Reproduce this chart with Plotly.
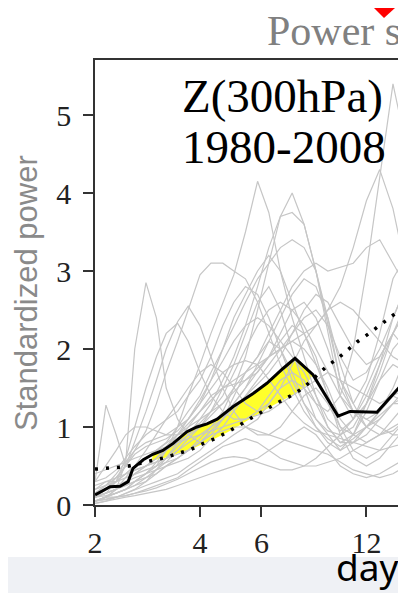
import numpy as np
import plotly.graph_objects as go

# ---------------- data ----------------
# common period grid (days) for the individual yearly spectra (grey lines)
grid_days = [2.0, 2.15, 2.3, 2.45, 2.6, 2.8, 3.0, 3.2, 3.45, 3.7, 4.0, 4.3, 4.65, 5.0,
             5.4, 5.85, 6.3, 6.8, 7.35, 7.95, 8.6, 9.3, 10.1, 11.0, 12.0, 13.1, 14.3, 15.6, 17.0]

years = list(range(1980, 2009))
year_power = [
    [0.05,0.10,0.20,0.55,2.00,2.85,2.40,1.50,1.10,0.90,0.80,0.90,1.10,1.40,1.70,1.90,2.10,2.00,1.70,1.30,1.00,0.80,0.70,0.90,1.30,1.60,1.80,1.70,1.60],
    [0.30,1.28,0.90,0.50,0.45,0.50,0.60,0.70,0.80,0.90,1.00,1.20,1.50,1.80,2.20,2.60,2.80,2.50,2.00,1.50,1.10,0.90,0.70,0.80,1.00,1.20,1.40,1.30,1.20],
    [0.10,0.15,0.20,0.25,0.30,0.40,0.50,0.70,1.00,1.40,1.80,2.20,2.60,2.95,3.50,4.15,3.75,3.00,2.40,1.90,1.40,1.00,0.80,0.90,1.20,1.60,2.00,2.20,2.10],
    [0.05,0.10,0.15,0.20,0.30,0.40,0.50,0.60,0.75,0.90,1.10,1.30,1.60,1.90,2.30,2.80,3.30,3.70,4.00,3.60,3.00,2.20,1.40,1.10,1.30,1.80,2.40,2.80,2.90],
    [0.15,0.25,0.35,0.50,0.70,0.95,1.30,1.70,2.10,2.50,2.95,3.10,3.10,3.00,2.90,2.60,2.20,1.80,1.50,1.20,1.00,0.85,0.75,0.85,1.00,1.15,1.30,1.30,1.20],
    [0.10,0.20,0.30,0.50,0.80,1.20,1.60,2.00,2.35,2.55,2.30,1.90,1.50,1.20,1.00,0.90,0.90,1.00,1.20,1.40,1.50,1.30,1.00,0.90,1.00,1.20,1.40,1.50,1.50],
    [0.10,0.15,0.30,0.60,1.00,1.50,1.90,2.20,2.33,2.10,1.70,1.40,1.20,1.10,1.10,1.20,1.40,1.60,1.70,1.60,1.30,1.00,0.80,0.80,0.90,1.10,1.30,1.40,1.40],
    [0.05,0.10,0.15,0.20,0.25,0.30,0.40,0.50,0.60,0.70,0.85,1.00,1.20,1.50,1.90,2.50,3.10,3.70,3.75,3.60,3.00,2.30,1.60,1.20,1.00,1.10,1.30,1.50,1.60],
    [0.10,0.15,0.20,0.30,0.40,0.50,0.55,0.60,0.70,0.80,0.90,1.00,1.10,1.30,1.50,1.70,1.90,2.00,2.10,2.20,2.30,2.50,2.80,3.30,3.90,4.30,3.80,3.00,2.50],
    [0.05,0.10,0.10,0.15,0.20,0.25,0.30,0.35,0.40,0.50,0.60,0.70,0.80,0.90,1.00,1.10,1.30,1.50,1.60,1.50,1.30,1.20,1.40,2.00,3.00,4.20,5.40,4.60,3.80],
    [0.20,0.25,0.30,0.40,0.50,0.60,0.70,0.80,0.90,1.00,1.10,1.20,1.30,1.50,1.70,1.90,2.20,2.50,2.80,3.00,3.10,3.00,3.05,3.10,3.30,3.40,3.10,2.80,2.60],
    [0.10,0.20,0.30,0.40,0.50,0.60,0.70,0.80,1.00,1.20,1.40,1.70,2.00,2.30,2.60,2.90,3.10,3.30,3.40,3.30,3.00,2.40,1.60,1.30,1.60,2.20,2.90,3.20,3.00],
    [0.02,0.05,0.08,0.10,0.12,0.15,0.18,0.20,0.25,0.30,0.35,0.40,0.45,0.50,0.55,0.60,0.70,0.80,0.90,1.00,0.90,0.70,0.50,0.40,0.35,0.40,0.50,0.60,0.70],
    [0.05,0.08,0.10,0.12,0.15,0.20,0.25,0.30,0.35,0.45,0.55,0.65,0.75,0.80,0.85,0.80,0.70,0.60,0.55,0.50,0.50,0.55,0.60,0.70,0.80,0.90,1.00,1.10,1.10],
    [0.10,0.15,0.20,0.30,0.40,0.50,0.60,0.75,0.90,1.05,1.20,1.35,1.50,1.60,1.70,1.80,1.90,2.00,2.10,2.00,1.80,1.50,1.10,0.90,0.80,0.90,1.10,1.30,1.40],
    [0.30,0.35,0.45,0.60,0.75,0.90,1.00,1.10,1.20,1.40,1.60,1.90,2.30,2.60,2.80,2.70,2.40,2.00,1.60,1.30,1.10,0.95,0.90,1.00,1.30,1.70,2.20,2.60,2.80],
    [0.15,0.25,0.40,0.55,0.70,0.80,0.85,0.90,1.00,1.10,1.30,1.60,2.00,2.40,2.70,3.00,3.20,3.00,2.60,2.20,1.80,1.40,1.00,0.70,0.60,0.70,0.90,1.10,1.20],
    [0.05,0.10,0.20,0.35,0.50,0.70,0.90,1.10,1.30,1.50,1.70,1.80,1.70,1.50,1.30,1.20,1.30,1.50,1.80,2.10,2.30,2.50,2.60,2.50,2.30,2.10,1.90,1.80,1.70],
    [0.20,0.30,0.35,0.40,0.45,0.50,0.55,0.60,0.65,0.70,0.80,0.95,1.10,1.25,1.40,1.55,1.70,1.90,2.20,2.50,2.70,2.60,2.30,2.00,1.80,1.90,2.20,2.50,2.60],
    [0.10,0.12,0.15,0.20,0.25,0.35,0.45,0.55,0.70,0.85,1.00,1.15,1.30,1.45,1.60,1.75,1.90,2.10,2.30,2.20,1.90,1.40,0.90,0.60,0.50,0.60,0.80,1.00,1.10],
    [0.40,0.45,0.50,0.55,0.60,0.65,0.70,0.75,0.80,0.85,0.90,0.95,1.00,1.05,1.10,1.15,1.20,1.30,1.40,1.50,1.60,1.70,1.60,1.50,1.40,1.30,1.40,1.60,1.70],
    [0.05,0.07,0.10,0.12,0.15,0.18,0.22,0.27,0.33,0.40,0.48,0.55,0.60,0.62,0.60,0.55,0.50,0.45,0.45,0.50,0.60,0.75,0.90,1.10,1.40,1.80,2.20,2.50,2.60],
    [0.10,0.20,0.35,0.50,0.65,0.75,0.80,0.85,0.95,1.10,1.30,1.50,1.70,1.80,1.85,1.80,1.60,1.40,1.20,1.05,0.95,0.90,0.85,0.80,0.75,0.70,0.75,0.80,0.85],
    [0.02,0.05,0.10,0.15,0.20,0.30,0.45,0.60,0.80,1.00,1.20,1.40,1.50,1.55,1.60,1.70,1.90,2.20,2.50,2.60,2.40,2.00,1.50,1.20,1.10,1.20,1.50,1.90,2.10],
    [0.30,0.50,0.70,0.90,1.00,1.00,0.95,0.90,0.90,0.95,1.05,1.20,1.40,1.70,2.00,2.30,2.50,2.60,2.50,2.30,2.00,1.70,1.40,1.20,1.10,1.00,0.90,0.90,0.90],
    [0.10,0.15,0.20,0.25,0.30,0.35,0.40,0.50,0.60,0.70,0.80,0.90,0.95,1.00,1.00,0.95,0.90,0.85,0.80,0.75,0.70,0.65,0.55,0.45,0.40,0.35,0.40,0.50,0.60],
    [0.05,0.10,0.15,0.20,0.30,0.40,0.55,0.70,0.90,1.10,1.35,1.60,1.85,2.10,2.30,2.40,2.30,2.10,1.90,1.70,1.40,1.10,0.95,1.10,1.50,1.90,2.20,2.00,1.90],
    [0.15,0.20,0.25,0.30,0.35,0.40,0.45,0.50,0.55,0.60,0.70,0.85,1.00,1.20,1.40,1.60,1.80,2.00,2.20,2.40,2.50,2.30,1.90,1.60,1.70,2.00,2.40,2.80,3.00],
    [0.25,0.30,0.30,0.35,0.40,0.45,0.50,0.55,0.60,0.70,0.80,0.95,1.10,1.30,1.50,1.80,2.10,2.40,2.70,2.90,2.80,2.40,1.80,1.30,1.00,0.90,0.95,1.10,1.20],
]

# composite (black line)
mean_days = [2.0, 2.21, 2.36, 2.49, 2.57, 2.75, 2.93, 3.13, 3.35, 3.67, 3.92, 4.19, 4.48,
             4.97, 5.68, 6.22, 6.92, 7.49, 8.43, 9.95, 10.77, 12.87, 14.98, 16.3]
mean_power = [0.13, 0.235, 0.24, 0.30, 0.47, 0.58, 0.65, 0.70, 0.79, 0.94, 1.00, 1.04, 1.10,
              1.26, 1.43, 1.56, 1.75, 1.88, 1.67, 1.14, 1.20, 1.19, 1.52, 1.65]

# significance level (dotted)
sig_days = [2.0, 2.25, 2.45, 2.91, 3.2, 3.45, 3.74, 4.05, 4.36, 4.78, 5.14, 5.56, 5.94,
            6.43, 6.92, 7.49, 8.0, 9.25, 9.88, 10.56, 11.28, 12.13, 13.04, 14.03, 14.98, 16.3]
sig_power = [0.46, 0.475, 0.49, 0.57, 0.61, 0.66, 0.705, 0.78, 0.84, 0.93, 1.01, 1.10, 1.18,
             1.27, 1.35, 1.43, 1.52, 1.78, 1.87, 1.98, 2.09, 2.19, 2.30, 2.41, 2.50, 2.62]

x_ticks = [2, 4, 6, 12]
y_ticks = [0, 1, 2, 3, 4, 5]

# ---------------- figure ----------------
# page body has an 8px margin, so the figure is 8px smaller than the window
OFF = 8
W, H = 406 - OFF, 593 - OFF
L, R, T, B = 95 - OFF, 0, 60 - OFF, 88
PW, PH = W - L - R, H - T - B   # 311 x 445

# helpers: window pixel (reference picture) -> paper coordinates
def px(xp):
    return (xp - 95) / PW

def py(yp):
    return (505 - yp) / PH

fig = go.Figure()

# yellow: where composite exceeds the significance curve
bd = np.array(mean_days); bp = np.array(mean_power)
sd = np.array(sig_days); sp = np.array(sig_power)
mb = (bd >= 2.9) & (bd <= 8.5)
ms = (sd >= 2.9) & (sd <= 8.1)
poly_x = list(bd[mb]) + list(sd[ms][::-1])
poly_y = list(bp[mb]) + list(sp[ms][::-1])
fig.add_trace(go.Scatter(x=poly_x, y=poly_y, mode="lines", fill="toself",
                         fillcolor="#ffff2a", line=dict(width=0),
                         hoverinfo="skip", showlegend=False))

for yr, vals in zip(years, year_power):
    fig.add_trace(go.Scatter(x=grid_days, y=vals, mode="lines", name=str(yr),
                             line=dict(color="#c6c6c6", width=1.2),
                             showlegend=False))

fig.add_trace(go.Scatter(x=sig_days, y=sig_power, mode="lines",
                         line=dict(color="black", width=3.5, dash="3px,8px"),
                         showlegend=False))
fig.add_trace(go.Scatter(x=mean_days, y=mean_power, mode="lines",
                         line=dict(color="black", width=3),
                         showlegend=False))

axis_font = dict(family="Liberation Serif", size=30, color="#222")
fig.update_xaxes(type="log", range=[np.log10(2), np.log10(2) + 311 / 105 * np.log10(2)],
                 tickvals=x_ticks, ticktext=[str(t) for t in x_ticks],
                 ticks="outside", ticklen=10, tickwidth=1.5, tickcolor="#333",
                 showline=True, linecolor="#333", linewidth=1.5, mirror=True,
                 showgrid=False, zeroline=False, tickfont=axis_font)
fig.update_yaxes(range=[0, PH / 78.0], tickvals=y_ticks,
                 ticks="outside", ticklen=10, tickwidth=1.5, tickcolor="#333",
                 showline=True, linecolor="#333", linewidth=1.5, mirror=False,
                 showgrid=False, zeroline=False, tickfont=axis_font,
                 ticklabelstandoff=6)

ann = []
ann.append(dict(text="Power s", x=px(265), y=py(31), xref="paper", yref="paper",
                xanchor="left", yanchor="middle", showarrow=False,
                font=dict(family="Liberation Serif", size=42, color="#808080")))
ann.append(dict(text="Z(300hPa)", x=px(180), y=py(96), xref="paper", yref="paper",
                xanchor="left", yanchor="middle", showarrow=False,
                font=dict(family="Liberation Serif", size=47, color="black")))
ann.append(dict(text="1980-2008", x=px(180), y=py(147), xref="paper", yref="paper",
                xanchor="left", yanchor="middle", showarrow=False,
                font=dict(family="Liberation Serif", size=47, color="black")))
ann.append(dict(text="Standardized power", x=px(26), y=py(293), xref="paper", yref="paper",
                xanchor="center", yanchor="middle", textangle=-90, showarrow=False,
                font=dict(family="Liberation Sans", size=31, color="#8a8a8a")))
ann.append(dict(text="day", x=px(334), y=py(566), xref="paper", yref="paper",
                xanchor="left", yanchor="middle", showarrow=False,
                font=dict(family="Noto Sans", size=37, color="black")))

shapes = [
    dict(type="rect", xref="paper", yref="paper", x0=px(OFF), x1=px(406), y0=py(593), y1=py(557),
         fillcolor="#eff1f5", line=dict(width=0), layer="below"),
    dict(type="path", xref="paper", yref="paper",
         path=f"M {px(374)} {py(OFF)} L {px(395)} {py(OFF)} L {px(384)} {py(18)} Z",
         fillcolor="#ff0000", line=dict(width=0)),
]

fig.update_layout(width=W, height=H, margin=dict(l=L, r=R, t=T, b=B),
                  paper_bgcolor="white", plot_bgcolor="white",
                  annotations=ann, shapes=shapes, showlegend=False)

fig.write_html("out.html")
